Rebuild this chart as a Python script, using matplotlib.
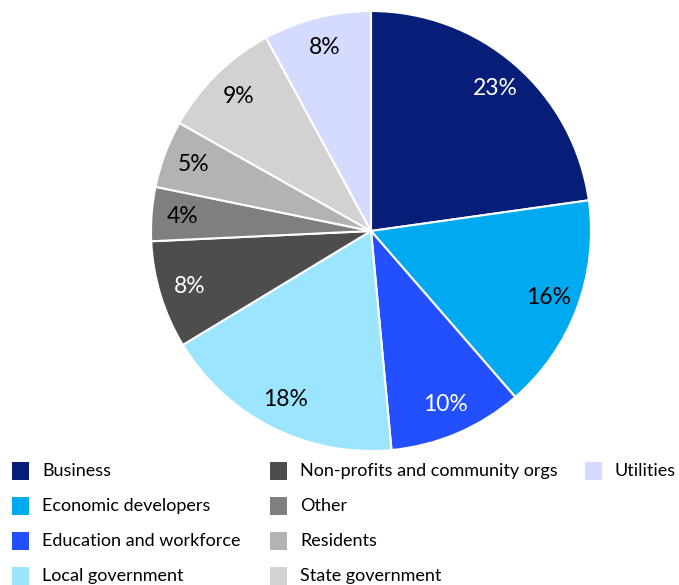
import matplotlib.pyplot as plt
from matplotlib.patches import Rectangle

plt.rcParams['font.family'] = ['Lato', 'DejaVu Sans']

# share of responses by stakeholder group (%)
groups = ["Business", "Economic developers", "Education and workforce",
          "Local government", "Non-profits and community orgs", "Other",
          "Residents", "State government", "Utilities"]
shares = [23, 16, 10, 18, 8, 4, 5, 9, 8]
colors = ["#061e78", "#00aaf0", "#2250ff", "#9ce5ff", "#4d4d4d",
          "#7f7f7f", "#b3b3b3", "#d2d2d2", "#d5dbff"]
label_colors = ["white", "black", "white", "black", "white",
                "black", "black", "black", "black"]

W, H = 679, 585
fig = plt.figure(figsize=(W / 100, H / 100), dpi=100)

# pie centred at (371, 231) px with radius 220 px
cx, cy, r = 371, 231, 220
ax = fig.add_axes([(cx - r) / W, (H - cy - r) / H, 2 * r / W, 2 * r / H])
wedges, texts = ax.pie(shares, colors=colors, startangle=90, counterclock=False,
                       radius=1, labels=[f"{s}%" for s in shares],
                       labeldistance=0.86,
                       wedgeprops=dict(edgecolor="white", linewidth=1.5))
for t, c in zip(texts, label_colors):
    t.set_color(c)
    t.set_fontsize(16.5)
    t.set_ha("center")
    t.set_va("center")
ax.set_xlim(-1, 1)
ax.set_ylim(-1, 1)
ax.set_aspect("equal")

# legend laid out column by column, four rows per column
col_x = [12, 270, 585]
row_y = [471, 506, 541, 576]
for i, (g, c) in enumerate(zip(groups, colors)):
    col, row = divmod(i, 4)
    x, y = col_x[col], row_y[row]
    fig.add_artist(Rectangle((x / W, (H - y - 9) / H), 17 / W, 18 / H,
                             transform=fig.transFigure, facecolor=c,
                             edgecolor="none"))
    fig.text((x + 30) / W, (H - y) / H, g, fontsize=13, va="center",
             ha="left", color="black")

fig.savefig("out.png", dpi=100)
